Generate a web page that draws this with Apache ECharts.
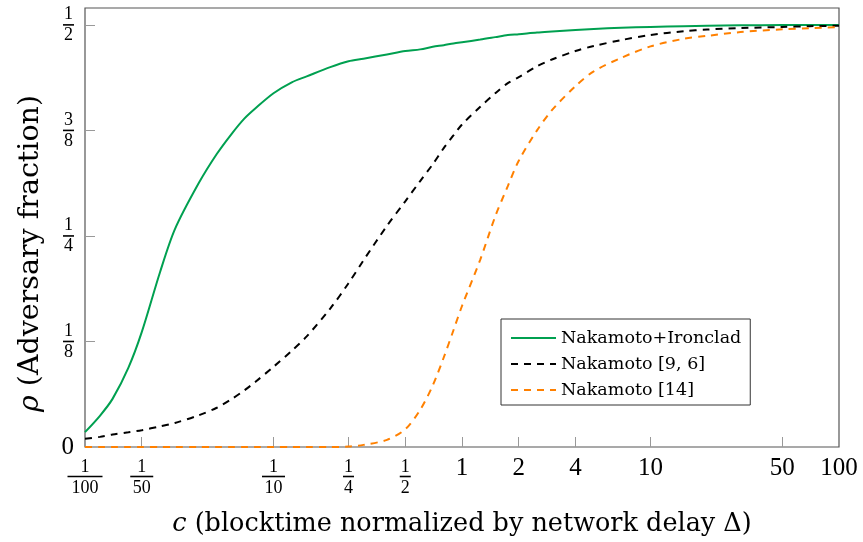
<!DOCTYPE html>
<html><head><meta charset="utf-8">
<script src="https://cdn.jsdelivr.net/npm/echarts@6/dist/echarts.min.js"></script>
<style>html,body{margin:0;padding:0;background:#fff}#c{width:863px;height:542px}</style>
</head><body><div id="c"></div>
<script>
const xValues = [0.01,0.012,0.014,0.017,0.02,0.025,0.03,0.04,0.05,0.06,0.07,0.08,0.1,0.125,0.15,0.2,0.25,0.3,0.4,0.5,0.6,0.7,0.8,0.9,1,1.25,1.5,1.75,2,2.5,3,4,5,7,10,15,20,30,50,70,100];
const ironclad = [0.0176,0.037,0.057,0.094,0.136,0.207,0.258,0.312,0.347,0.371,0.389,0.401,0.419,0.432,0.439,0.450,0.457,0.460,0.465,0.469,0.471,0.474,0.476,0.478,0.4795,0.4826,0.4855,0.488,0.489,0.491,0.4922,0.494,0.4952,0.4965,0.4976,0.4985,0.499,0.4995,0.4998,0.4999,0.5];
const nakamoto96 = [0.0098,0.012,0.0148,0.0175,0.0199,0.0245,0.0285,0.0375,0.0465,0.0568,0.067,0.077,0.095,0.114,0.131,0.164,0.194,0.221,0.262,0.291,0.315,0.335,0.354,0.369,0.382,0.403,0.419,0.431,0.438,0.451,0.459,0.469,0.475,0.482,0.488,0.4925,0.4945,0.4962,0.4975,0.4985,0.499];
const nakamoto14 = [0,0,0,0,0,0,0,0,0,0,0,0,0,0,0,0,0.0005,0.0025,0.0085,0.021,0.044,0.073,0.106,0.138,0.167,0.222,0.273,0.309,0.339,0.375,0.399,0.4275,0.445,0.461,0.4745,0.4835,0.487,0.4915,0.4947,0.496,0.4973];
const seriesNames = ['Nakamoto+Ironclad','Nakamoto [9, 6]','Nakamoto [14]'];
const xTickValues = [0.01,0.02,0.1,0.25,0.5,1,2,4,10,50,100];
const xTickLabels = ['1/100','1/50','1/10','1/4','1/2','1','2','4','10','50','100'];
const yTickValues = [0,0.125,0.25,0.375,0.5];
const yTickLabels = ['0','1/8','1/4','3/8','1/2'];

const DIG = 'Liberation Serif';
const TXT = 'DejaVu Serif';
function fracRich(lab){
  if(lab.indexOf('/')<0) return '{i|'+lab+'}';
  const p = lab.split('/');
  return '{n|'+p[0]+'}\n{b'+p[1].length+'| }\n{d|'+p[1]+'}';
}
function richFor(numLH, denLH){
  return {
    n:{fontFamily:DIG,fontSize:18,lineHeight:numLH,color:'#000',align:'center'},
    d:{fontFamily:DIG,fontSize:18,lineHeight:denLH,color:'#000',align:'center'},
    b1:{width:11,height:1.6,backgroundColor:'#000',lineHeight:5,fontSize:4,align:'center'},
    b2:{width:23,height:1.6,backgroundColor:'#000',lineHeight:5,fontSize:4,align:'center'},
    b3:{width:35,height:1.6,backgroundColor:'#000',lineHeight:5,fontSize:4,align:'center'},
    i:{fontFamily:DIG,fontSize:25,lineHeight:16,color:'#000'}
  };
}
function nearestIdx(arr, v){
  let bi=0, bd=Infinity;
  arr.forEach((a,i)=>{const d=Math.abs(a-v); if(d<bd){bd=d;bi=i;}});
  return bi;
}
const logTicks = xTickValues.map(v=>Math.log10(v));
const pairs = ys => xValues.map((x,i)=>[x, ys[i]]);

const chart = echarts.init(document.getElementById('c'), null, {renderer:'canvas'});
chart.setOption({
  animation:false,
  backgroundColor:'#fff',
  grid:{left:85,right:24,top:8,bottom:92,show:true,borderColor:'#555',borderWidth:1.2,backgroundColor:'transparent'},
  xAxis:[
    {type:'log',logBase:10,min:0.01,max:100,position:'top',show:false},
    {type:'value',min:-2,max:2,position:'bottom',
     name:'{i|c} (blocktime normalized by network delay Δ)',nameLocation:'middle',nameGap:64,
     nameTextStyle:{fontFamily:TXT,fontSize:25.5,color:'#000',
       rich:{i:{fontFamily:TXT,fontSize:25.5,fontStyle:'italic',color:'#000'}}},
     axisLine:{show:false,onZero:false},splitLine:{show:false},
     axisTick:{show:true,inside:true,length:10,lineStyle:{color:'#999',width:1},customValues:logTicks.slice(1,-1)},
     axisLabel:{margin:13,customValues:logTicks,formatter:v=>fracRich(xTickLabels[nearestIdx(logTicks,v)]),rich:richFor(14,18)}
    }
  ],
  yAxis:{type:'value',min:0,max:0.52,
     name:'{i|ρ} (Adversary fraction)',nameLocation:'middle',nameGap:40,
     nameTextStyle:{fontFamily:TXT,fontSize:28.5,color:'#000',padding:[0,52,0,0],
       rich:{i:{fontFamily:TXT,fontSize:28.5,fontStyle:'italic',color:'#000'}}},
     axisLine:{show:false,onZero:false},splitLine:{show:false},
     axisTick:{show:true,inside:true,length:10,lineStyle:{color:'#999',width:1},customValues:yTickValues.slice(1)},
     axisLabel:{margin:11,customValues:yTickValues,formatter:v=>fracRich(yTickLabels[nearestIdx(yTickValues,v)]),rich:richFor(16,16)}
  },
  legend:{orient:'vertical',left:501,top:319,padding:[10,9,6,9],itemGap:8,itemWidth:45,itemHeight:14,
    backgroundColor:'#fff',borderColor:'#333',borderWidth:1,borderRadius:0,
    itemStyle:{color:'rgba(0,0,0,0)',borderWidth:0,opacity:0},
    textStyle:{fontFamily:TXT,fontSize:17.5,lineHeight:14,color:'#000'},
    data:seriesNames},
  series:[
    {name:seriesNames[0],type:'line',xAxisIndex:0,data:pairs(ironclad),showSymbol:false,symbol:'none',smooth:0.3,
     lineStyle:{color:'#00a050',width:2},itemStyle:{color:'#00a050'}},
    {name:seriesNames[1],type:'line',xAxisIndex:0,data:pairs(nakamoto96),showSymbol:false,symbol:'none',smooth:0.3,
     lineStyle:{color:'#000',width:2,type:[7,6]},itemStyle:{color:'#000'}},
    {name:seriesNames[2],type:'line',xAxisIndex:0,data:pairs(nakamoto14),showSymbol:false,symbol:'none',smooth:0.3,
     lineStyle:{color:'#ff8000',width:2,type:[7,6]},itemStyle:{color:'#ff8000'}}
  ]
});
</script></body></html>
